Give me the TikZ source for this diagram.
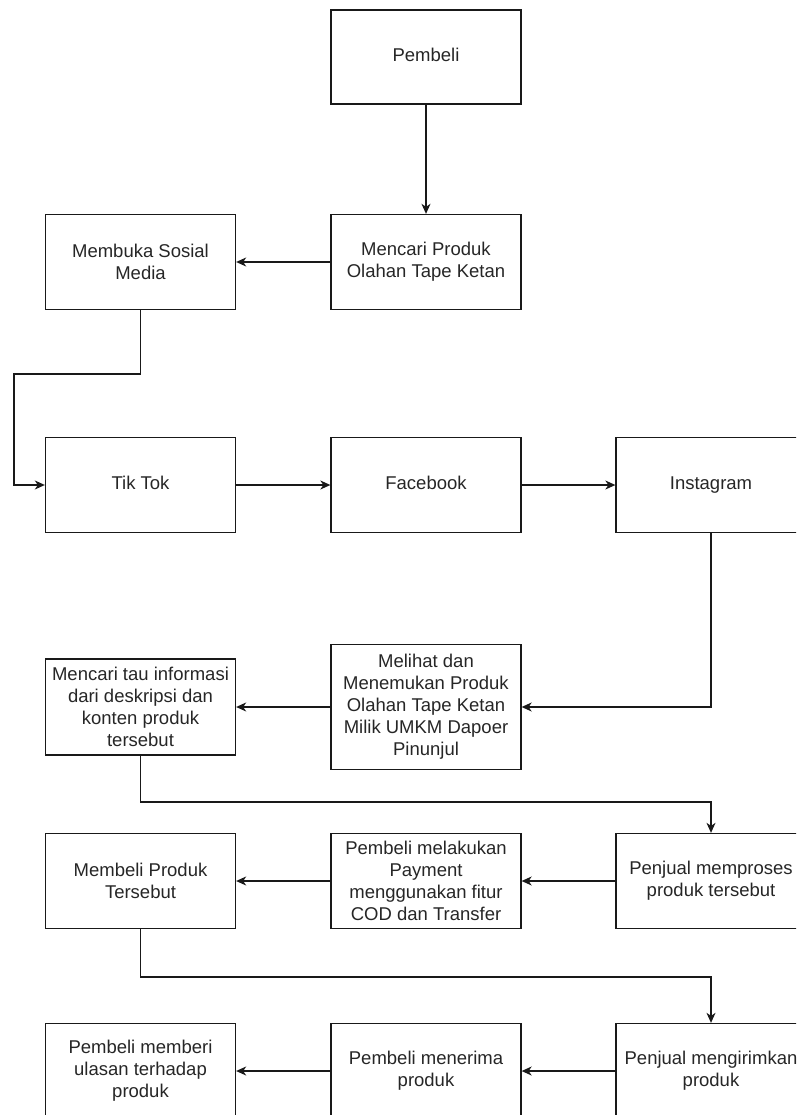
\documentclass[tikz,border=0pt]{standalone}
\usepackage{fontspec}
\setmainfont{Liberation Sans}
\usetikzlibrary{arrows.meta}

\begin{document}
\begin{tikzpicture}[x=1pt,y=-1pt,
	box/.style={draw=black!90, line width=1.3pt, rectangle, minimum width=190pt,
		minimum height=95pt, align=center, text=black!85, inner sep=2pt,
		font=\fontsize{18.5pt}{22pt}\selectfont},
	flow/.style={draw=black!90, line width=1.3pt, -{Stealth[length=10pt,width=9pt,inset=3pt]}}]
	
	% ======================================================
	% Canvas
	% ======================================================
	\useasboundingbox (0,0) rectangle (796,1115);
	\clip (0,0) rectangle (796,1115);
	
	% Row 1 -- 2
	\node[box, minimum height=94pt] (pembeli) at (426,57) {\strut Pembeli};
	\node[box] (mencari) at (426,262) {Mencari Produk\\Olahan Tape Ketan};
	\node[box] (membuka) at (140.5,262) {Membuka Sosial\\Media};
	
	% Row 3: social media
	\node[box] (tiktok) at (140.5,485) {\strut Tik Tok};
	\node[box] (facebook) at (426,485) {\strut Facebook};
	\node[box] (instagram) at (711,485) {\strut Instagram};
	
	% Row 4
	\node[box, minimum height=125pt] (melihat) at (426,707)
	{Melihat dan\\Menemukan Produk\\Olahan Tape Ketan\\Milik UMKM Dapoer\\Pinunjul};
	\node[box, minimum height=96pt] (mencaritau) at (140.5,707)
	{Mencari tau informasi\\dari deskripsi dan\\konten produk\\tersebut};
	
	% Row 5
	\node[box] (memproses) at (711,881) {Penjual memproses\\produk tersebut};
	\node[box] (payment) at (426,881)
	{Pembeli melakukan\\Payment\\menggunakan fitur\\COD dan Transfer};
	\node[box] (membeli) at (140.5,881) {Membeli Produk\\Tersebut};
	
	% Row 6
	\node[box] (mengirim) at (711,1071) {Penjual mengirimkan\\produk};
	\node[box] (menerima) at (426,1071) {Pembeli menerima\\produk};
	\node[box] (ulasan) at (140.5,1071) {Pembeli memberi\\ulasan terhadap\\produk};
	
	% Bend points
	\coordinate (bendA) at (14,374);
	\coordinate (bendB) at (140.5,802);
	\coordinate (bendC) at (140.5,977);
	
	% Connectors
	\draw[flow] (pembeli) -- (mencari);
	\draw[flow] (mencari) -- (membuka);
	\draw[flow] (membuka.south) |- (bendA) |- (tiktok.west);
	\draw[flow] (tiktok) -- (facebook);
	\draw[flow] (facebook) -- (instagram);
	\draw[flow] (instagram.south) |- (melihat.east);
	\draw[flow] (melihat) -- (mencaritau);
	\draw[flow] (mencaritau.south) -- (bendB) -| (memproses.north);
	\draw[flow] (memproses) -- (payment);
	\draw[flow] (payment) -- (membeli);
	\draw[flow] (membeli.south) -- (bendC) -| (mengirim.north);
	\draw[flow] (mengirim) -- (menerima);
	\draw[flow] (menerima) -- (ulasan);
	
\end{tikzpicture}
\end{document}
